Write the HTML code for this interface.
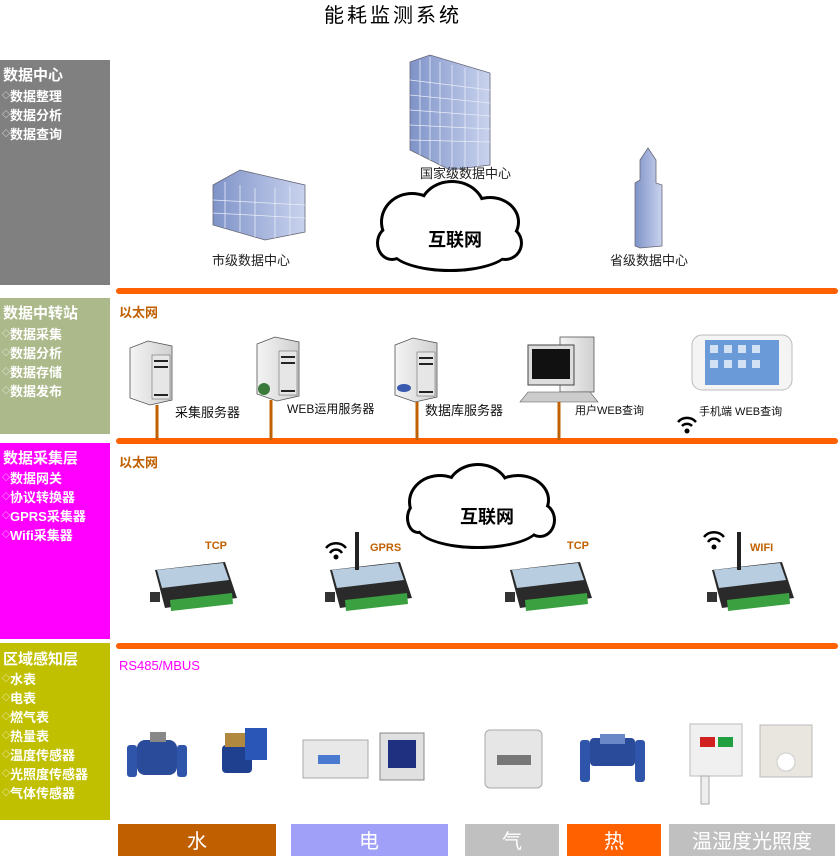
<!DOCTYPE html>
<html><head><meta charset="utf-8"><style>
html,body{margin:0;padding:0;background:#fff;}
svg{display:block;}
text{font-family:"Liberation Sans","Noto Sans CJK SC",sans-serif;}
.sb{fill:#fff;font-weight:bold;}
.d{font-size:8px;font-weight:normal;}
</style></head><body>
<svg width="838" height="856" viewBox="0 0 838 856" xmlns="http://www.w3.org/2000/svg">
<defs>
<linearGradient id="bl" x1="0" x2="1"><stop offset="0" stop-color="#7f93c8"/><stop offset="1" stop-color="#c9d3ee"/></linearGradient>
<linearGradient id="sv" x1="0" x2="1"><stop offset="0" stop-color="#f4f4f4"/><stop offset="1" stop-color="#d0d0d0"/></linearGradient>
</defs>
<text x="393" y="22" font-size="20" text-anchor="middle" font-family="'Liberation Serif','Noto Serif CJK SC',serif" letter-spacing="3">能耗监测系统</text>

<!-- sidebar -->
<rect x="0" y="60" width="110" height="225" fill="#808080"/>
<text class="sb" x="3" y="80" font-size="15">数据中心</text>
<text class="sb" x="2" y="101" font-size="13"><tspan class="d" dy="-3">◇</tspan><tspan dy="3">数据整理</tspan></text>
<text class="sb" x="2" y="120" font-size="13"><tspan class="d" dy="-3">◇</tspan><tspan dy="3">数据分析</tspan></text>
<text class="sb" x="2" y="139" font-size="13"><tspan class="d" dy="-3">◇</tspan><tspan dy="3">数据查询</tspan></text>

<rect x="0" y="298" width="110" height="136" fill="#acb98a"/>
<text class="sb" x="3" y="318" font-size="15">数据中转站</text>
<text class="sb" x="2" y="339" font-size="13"><tspan class="d" dy="-3">◇</tspan><tspan dy="3">数据采集</tspan></text>
<text class="sb" x="2" y="358" font-size="13"><tspan class="d" dy="-3">◇</tspan><tspan dy="3">数据分析</tspan></text>
<text class="sb" x="2" y="377" font-size="13"><tspan class="d" dy="-3">◇</tspan><tspan dy="3">数据存储</tspan></text>
<text class="sb" x="2" y="396" font-size="13"><tspan class="d" dy="-3">◇</tspan><tspan dy="3">数据发布</tspan></text>

<rect x="0" y="443" width="110" height="196" fill="#ff00ff"/>
<text class="sb" x="3" y="463" font-size="15">数据采集层</text>
<text class="sb" x="2" y="483" font-size="13"><tspan class="d" dy="-3">◇</tspan><tspan dy="3">数据网关</tspan></text>
<text class="sb" x="2" y="502" font-size="13"><tspan class="d" dy="-3">◇</tspan><tspan dy="3">协议转换器</tspan></text>
<text class="sb" x="2" y="521" font-size="13"><tspan class="d" dy="-3">◇</tspan><tspan dy="3">GPRS采集器</tspan></text>
<text class="sb" x="2" y="540" font-size="13"><tspan class="d" dy="-3">◇</tspan><tspan dy="3">Wifi采集器</tspan></text>

<rect x="0" y="643" width="110" height="177" fill="#c0c000"/>
<text class="sb" x="3" y="664" font-size="15">区域感知层</text>
<text class="sb" x="2" y="684" font-size="13"><tspan class="d" dy="-3">◇</tspan><tspan dy="3">水表</tspan></text>
<text class="sb" x="2" y="703" font-size="13"><tspan class="d" dy="-3">◇</tspan><tspan dy="3">电表</tspan></text>
<text class="sb" x="2" y="722" font-size="13"><tspan class="d" dy="-3">◇</tspan><tspan dy="3">燃气表</tspan></text>
<text class="sb" x="2" y="741" font-size="13"><tspan class="d" dy="-3">◇</tspan><tspan dy="3">热量表</tspan></text>
<text class="sb" x="2" y="760" font-size="13"><tspan class="d" dy="-3">◇</tspan><tspan dy="3">温度传感器</tspan></text>
<text class="sb" x="2" y="779" font-size="13"><tspan class="d" dy="-3">◇</tspan><tspan dy="3">光照度传感器</tspan></text>
<text class="sb" x="2" y="798" font-size="13"><tspan class="d" dy="-3">◇</tspan><tspan dy="3">气体传感器</tspan></text>

<!-- orange lines -->
<line x1="119" y1="291" x2="835" y2="291" stroke="#ff6000" stroke-width="6" stroke-linecap="round"/>
<line x1="119" y1="441" x2="835" y2="441" stroke="#ff6000" stroke-width="6" stroke-linecap="round"/>
<line x1="119" y1="646" x2="835" y2="646" stroke="#ff6000" stroke-width="6" stroke-linecap="round"/>
<text x="119" y="317" font-size="13" font-weight="bold" fill="#c06000">以太网</text>
<text x="119" y="467" font-size="13" font-weight="bold" fill="#c06000">以太网</text>
<text x="119" y="670" font-size="13" fill="#ff00ff">RS485/MBUS</text>

<!-- buildings -->
<polygon points="410,62 430,55 490,73 490,165 450,170 410,150" fill="url(#bl)" stroke="#667" stroke-width="0.8"/>
<g stroke="#e8ecf8" stroke-width="0.8">
<line x1="420" y1="60" x2="420" y2="155"/><line x1="430" y1="57" x2="430" y2="160"/><line x1="440" y1="62" x2="440" y2="165"/><line x1="452" y1="65" x2="452" y2="168"/><line x1="465" y1="68" x2="465" y2="168"/><line x1="478" y1="71" x2="478" y2="167"/>
<line x1="410" y1="80" x2="490" y2="90"/><line x1="410" y1="95" x2="490" y2="103"/><line x1="410" y1="110" x2="490" y2="116"/><line x1="410" y1="125" x2="490" y2="129"/><line x1="410" y1="140" x2="490" y2="142"/>
</g>
<polygon points="213,185 240,170 305,185 305,232 265,240 213,225" fill="url(#bl)" stroke="#667" stroke-width="0.8"/>
<g stroke="#e8ecf8" stroke-width="0.8">
<line x1="225" y1="182" x2="225" y2="228"/><line x1="240" y1="185" x2="240" y2="232"/><line x1="255" y1="188" x2="255" y2="237"/><line x1="275" y1="188" x2="275" y2="238"/><line x1="290" y1="186" x2="290" y2="235"/>
<line x1="213" y1="200" x2="305" y2="205"/><line x1="213" y1="213" x2="305" y2="218"/>
</g>
<polygon points="640,160 648,148 656,160 656,183 662,185 662,246 640,248 635,246 635,183 640,180" fill="url(#bl)" stroke="#667" stroke-width="0.8"/>
<text x="420" y="178" font-size="13" fill="#222">国家级数据中心</text>
<text x="212" y="265" font-size="13" fill="#222">市级数据中心</text>
<text x="610" y="265" font-size="13" fill="#222">省级数据中心</text>

<!-- cloud 1 -->
<g>
<g fill="#000"><ellipse cx="412" cy="222" rx="32" ry="30"/><ellipse cx="452" cy="210" rx="34" ry="30"/><ellipse cx="490" cy="222" rx="30" ry="26"/><ellipse cx="505" cy="243" rx="18" ry="18"/><ellipse cx="450" cy="250" rx="60" ry="22"/><ellipse cx="392" cy="243" rx="16" ry="18"/></g>
<g fill="#fff"><ellipse cx="412" cy="222" rx="29" ry="27"/><ellipse cx="452" cy="210" rx="31" ry="27"/><ellipse cx="490" cy="222" rx="27" ry="23"/><ellipse cx="505" cy="243" rx="15" ry="15"/><ellipse cx="450" cy="250" rx="57" ry="19"/><ellipse cx="392" cy="243" rx="13" ry="15"/></g>
<text x="455" y="246" font-size="18" font-weight="bold" text-anchor="middle">互联网</text>
</g>

<!-- servers -->
<g id="srv">
<polygon points="130,348 148,341 172,346 172,400 150,405 130,398" fill="url(#sv)" stroke="#555" stroke-width="0.8"/>
<rect x="152" y="355" width="18" height="44" fill="#e6e6e6" stroke="#555" stroke-width="0.5"/>
<rect x="154" y="360" width="14" height="2" fill="#222"/><rect x="154" y="366" width="14" height="2" fill="#222"/><rect x="154" y="394" width="14" height="2" fill="#222"/>
</g>
<use href="#srv" x="127" y="-4"/>
<use href="#srv" x="265" y="-3"/>
<circle cx="264" cy="389" r="6" fill="#3a7a3a"/>
<ellipse cx="404" cy="388" rx="7" ry="4" fill="#3a5ab0"/>
<text x="175" y="417" font-size="13" fill="#111" font-family="'Liberation Serif','Noto Serif CJK SC',serif">采集服务器</text>
<text x="287" y="413" font-size="12" fill="#111" font-family="'Liberation Serif','Noto Serif CJK SC',serif">WEB运用服务器</text>
<text x="425" y="415" font-size="13" fill="#111" font-family="'Liberation Serif','Noto Serif CJK SC',serif">数据库服务器</text>
<!-- PC -->
<rect x="560" y="337" width="34" height="55" fill="url(#sv)" stroke="#555" stroke-width="0.8"/>
<rect x="528" y="345" width="46" height="40" fill="#ddd" stroke="#444"/>
<rect x="532" y="349" width="38" height="30" fill="#111"/>
<polygon points="528,392 590,392 598,402 520,402" fill="#ccc" stroke="#555" stroke-width="0.6"/>
<text x="575" y="414" font-size="11" fill="#111">用户WEB查询</text>
<!-- phone -->
<rect x="692" y="335" width="100" height="55" rx="10" fill="#f4f4f4" stroke="#bbb"/>
<rect x="705" y="340" width="74" height="45" fill="#6a9ad8"/>
<g fill="#fff" opacity="0.7"><rect x="710" y="345" width="8" height="8"/><rect x="724" y="345" width="8" height="8"/><rect x="738" y="345" width="8" height="8"/><rect x="752" y="345" width="8" height="8"/><rect x="710" y="360" width="8" height="8"/><rect x="724" y="360" width="8" height="8"/><rect x="738" y="360" width="8" height="8"/><rect x="752" y="360" width="8" height="8"/></g>
<text x="699" y="415" font-size="11" fill="#111">手机端 WEB查询</text>
<g transform="translate(687,427)" fill="none" stroke="#000" stroke-width="2.5"><path d="M-9,-5 A12,12 0 0 1 9,-5"/><path d="M-5,-1 A7,7 0 0 1 5,-1"/></g><circle cx="687" cy="431" r="2.5"/>
<g stroke="#c06000" stroke-width="3"><line x1="157" y1="405" x2="157" y2="440"/><line x1="271" y1="400" x2="271" y2="440"/><line x1="417" y1="402" x2="417" y2="440"/><line x1="559" y1="402" x2="559" y2="440"/></g>

<!-- cloud 2 -->
<g>
<g fill="#000"><ellipse cx="440" cy="502" rx="32" ry="28"/><ellipse cx="478" cy="490" rx="32" ry="27"/><ellipse cx="518" cy="500" rx="32" ry="26"/><ellipse cx="540" cy="520" rx="16" ry="18"/><ellipse cx="478" cy="527" rx="62" ry="22"/><ellipse cx="418" cy="518" rx="12" ry="16"/></g>
<g fill="#fff"><ellipse cx="440" cy="502" rx="29" ry="25"/><ellipse cx="478" cy="490" rx="29" ry="24"/><ellipse cx="518" cy="500" rx="29" ry="23"/><ellipse cx="540" cy="520" rx="13" ry="15"/><ellipse cx="478" cy="527" rx="59" ry="19"/><ellipse cx="418" cy="518" rx="9" ry="13"/></g>
<text x="487" y="523" font-size="18" font-weight="bold" text-anchor="middle">互联网</text>
</g>

<!-- gateways -->
<g id="gw">
<polygon points="155,570 225,562 237,598 165,608" fill="#2a2a2a"/>
<polygon points="157,570 223,563 229,580 162,588" fill="#b8cde0"/>
<rect x="150" y="592" width="10" height="10" fill="#333"/>
<polygon points="170,600 232,593 233,604 171,611" fill="#3aa040"/>
</g>
<use href="#gw" x="175" y="0"/><use href="#gw" x="355" y="0"/><use href="#gw" x="557" y="0"/>
<text x="205" y="549" font-size="11" font-weight="bold" fill="#c06000">TCP</text>
<text x="370" y="551" font-size="11" font-weight="bold" fill="#c06000">GPRS</text>
<text x="567" y="549" font-size="11" font-weight="bold" fill="#c06000">TCP</text>
<text x="750" y="551" font-size="11" font-weight="bold" fill="#c06000">WIFI</text>
<rect x="355" y="532" width="4" height="38" fill="#222"/>
<rect x="737" y="532" width="4" height="38" fill="#222"/>
<g transform="translate(336,556)" fill="none" stroke="#000" stroke-width="2.5"><path d="M-10,-8 A13,13 0 0 1 10,-8"/><path d="M-6,-3 A7,7 0 0 1 6,-3"/></g><circle cx="336" cy="557" r="2.5"/>
<g transform="translate(714,545)" fill="none" stroke="#000" stroke-width="2.5"><path d="M-10,-8 A13,13 0 0 1 10,-8"/><path d="M-6,-3 A7,7 0 0 1 6,-3"/></g><circle cx="714" cy="547" r="2.5"/>

<!-- meters -->
<rect x="137" y="740" width="40" height="35" rx="8" fill="#2a4a9a"/><rect x="127" y="745" width="10" height="32" rx="3" fill="#2f55aa"/><rect x="177" y="745" width="10" height="32" rx="3" fill="#2f55aa"/><rect x="150" y="732" width="16" height="10" fill="#888"/>
<rect x="222" y="745" width="30" height="28" rx="4" fill="#1f3f8f"/><rect x="225" y="733" width="22" height="14" fill="#b08840"/><rect x="245" y="728" width="22" height="32" fill="#2a56b8"/>
<rect x="303" y="740" width="65" height="38" fill="#e8e8e8" stroke="#aaa"/><rect x="318" y="755" width="22" height="9" fill="#4a7ad0"/>
<rect x="380" y="733" width="44" height="47" fill="#e0e0e0" stroke="#888"/><rect x="388" y="740" width="28" height="28" fill="#203080"/>
<rect x="485" y="730" width="57" height="58" rx="5" fill="#e6e6e6" stroke="#aaa"/><rect x="497" y="755" width="34" height="10" fill="#777"/>
<rect x="590" y="738" width="45" height="28" rx="4" fill="#2a4a9a"/><rect x="580" y="740" width="10" height="42" rx="3" fill="#2f55aa"/><rect x="635" y="740" width="10" height="42" rx="3" fill="#2f55aa"/><rect x="600" y="734" width="25" height="10" fill="#6a88c8"/>
<rect x="690" y="724" width="52" height="52" fill="#f0f0f0" stroke="#bbb"/><rect x="700" y="737" width="15" height="10" fill="#d02020"/><rect x="718" y="737" width="15" height="10" fill="#20a040"/><rect x="701" y="776" width="8" height="28" fill="#eee" stroke="#aaa"/>
<rect x="760" y="725" width="52" height="52" fill="#e8e6df" stroke="#bbb"/><circle cx="786" cy="762" r="9" fill="#fff" stroke="#ccc"/>

<!-- bottom bars -->
<rect x="118" y="824" width="158" height="32" fill="#c05f00"/>
<rect x="291" y="824" width="157" height="32" fill="#a0a0f8"/>
<rect x="465" y="824" width="94" height="32" fill="#c0c0c0"/>
<rect x="567" y="824" width="94" height="32" fill="#ff6000"/>
<rect x="669" y="824" width="166" height="32" fill="#c0c0c0"/>
<g fill="#fff" font-size="20" text-anchor="middle">
<text x="197" y="848">水</text><text x="369" y="848">电</text><text x="512" y="848">气</text><text x="614" y="848">热</text><text x="752" y="848">温湿度光照度</text>
</g>
</svg>
</body></html>
